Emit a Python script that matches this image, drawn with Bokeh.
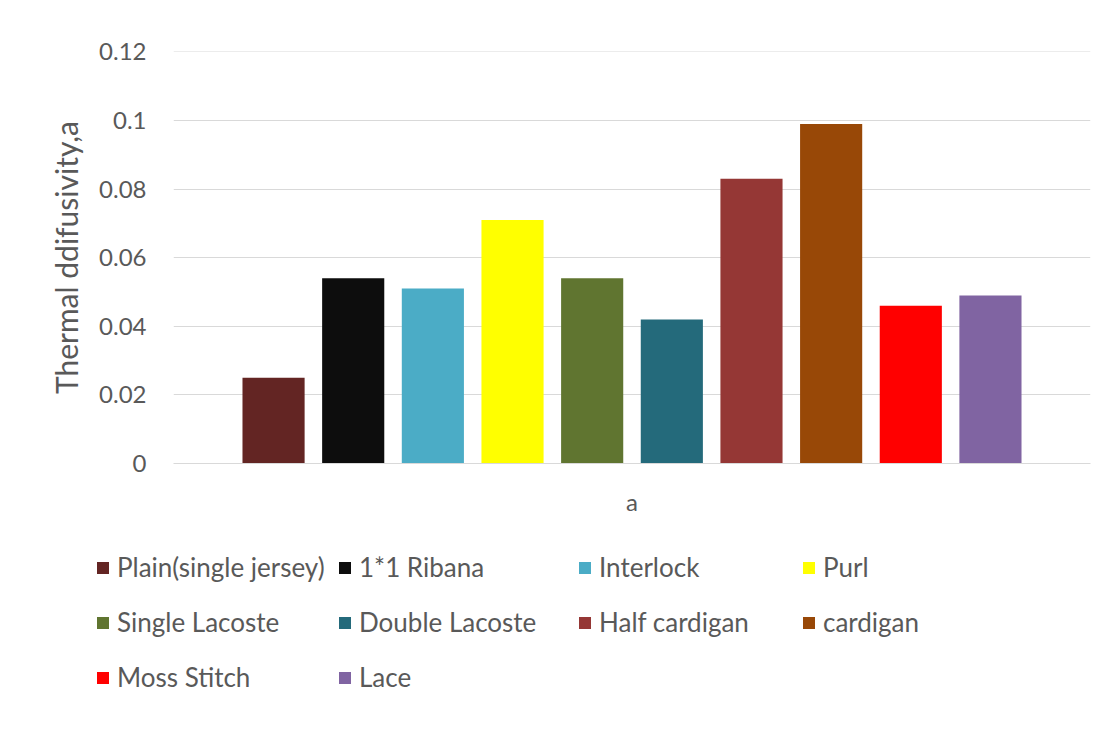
from bokeh.plotting import figure
from bokeh.layouts import column
from bokeh.models import (ColumnDataSource, Range1d, FixedTicker, Legend, LegendItem)
from bokeh.embed import file_html
from bokeh.resources import INLINE

categories = ["Plain(single jersey)", "1*1 Ribana", "Interlock", "Purl",
              "Single Lacoste", "Double Lacoste", "Half cardigan", "cardigan",
              "Moss Stitch", "Lace"]
values = [0.025, 0.054, 0.051, 0.071, 0.054, 0.042, 0.083, 0.099, 0.046, 0.049]
colors = ["#632523", "#0d0d0d", "#4bacc6", "#ffff00", "#607530",
          "#246a7b", "#953735", "#984807", "#ff0000", "#8064a2"]
group_label = "a"
y_ticks = [0, 0.02, 0.04, 0.06, 0.08, 0.1, 0.12]
y_tick_labels = ["0", "0.02", "0.04", "0.06", "0.08", "0.1", "0.12"]

FONT = "Lato"
TXT = "#595959"
W = 1120

positions = list(range(1, len(categories) + 1))
src = ColumnDataSource(dict(x=positions, top=values, color=colors, label=categories))

p = figure(width=W, height=540, output_backend="svg", toolbar_location=None,
           x_range=Range1d(-0.256, 11.256), y_range=Range1d(0, 0.1201),
           min_border_left=173, min_border_right=30, min_border_top=51,
           min_border_bottom=77)
p.frame_align = False
p.outline_line_color = None
p.background_fill_color = "white"
p.border_fill_color = "white"

r = p.vbar(x="x", top="top", width=0.78, bottom=0, fill_color="color",
           line_color=None, source=src)

# y axis
yax = p.yaxis[0]
yax.ticker = FixedTicker(ticks=y_ticks)
yax.major_label_overrides = {t: l for t, l in zip(y_ticks, y_tick_labels)}
yax.axis_line_color = None
yax.major_tick_line_color = None
yax.minor_tick_line_color = None
yax.major_label_text_font = FONT
yax.major_label_text_font_size = "24px"
yax.major_label_text_color = TXT
yax.major_label_standoff = 21
yax.axis_label = "Thermal ddifusivity,a"
yax.axis_label_text_font = FONT
yax.axis_label_text_font_size = "30px"
yax.axis_label_text_font_style = "normal"
yax.axis_label_text_color = TXT
yax.axis_label_standoff = 12

# x axis
xax = p.xaxis[0]
mid = (positions[0] + positions[-1]) / 2
xax.ticker = FixedTicker(ticks=[mid])
xax.major_label_overrides = {mid: group_label}
xax.axis_line_color = "#d9d9d9"
xax.major_tick_line_color = None
xax.minor_tick_line_color = None
xax.major_label_text_font = FONT
xax.major_label_text_font_size = "24px"
xax.major_label_text_color = TXT
xax.major_label_standoff = 17

p.xgrid.grid_line_color = None
p.ygrid.ticker = FixedTicker(ticks=y_ticks)
p.ygrid.grid_line_color = "#d9d9d9"
p.ygrid.grid_line_width = 1

# legend figure (its bar renderer is hidden; only the legend shows)
LH = 200
pl = figure(width=W, height=LH, output_backend="svg", toolbar_location=None,
            x_range=Range1d(0, 11), y_range=Range1d(10, 11),
            min_border=0, x_axis_location=None, y_axis_location=None)
pl.frame_align = False
pl.outline_line_color = None
pl.grid.visible = False
pl.border_fill_color = "white"
pl.background_fill_color = "white"
rl = pl.vbar(x="x", top="top", width=0.78, bottom=0, fill_color="color",
             line_color=None, source=src)
rl.visible = False

col_members = [[0, 4, 8], [1, 5, 9], [2, 6], [3, 7]]
col_x = [95, 337, 577, 801]
row_c = [27, 82, 137]
item_h = 34
for members, xo in zip(col_members, col_x):
    items = [LegendItem(label=categories[i], renderers=[rl], index=i) for i in members]
    nrows = len(members)
    bottom_edge = row_c[nrows - 1] + item_h / 2
    yo = LH - bottom_edge
    lg = Legend(items=items, location=(xo, yo), orientation="vertical",
                border_line_color=None, background_fill_alpha=0,
                padding=0, margin=0, spacing=55 - item_h,
                glyph_width=15, glyph_height=15, label_standoff=7,
                label_height=item_h, label_text_font=FONT,
                label_text_font_size="26px", label_text_color=TXT)
    pl.add_layout(lg, "center")

layout = column(p, pl, spacing=0)
open("out.html", "w").write(file_html(layout, INLINE))
